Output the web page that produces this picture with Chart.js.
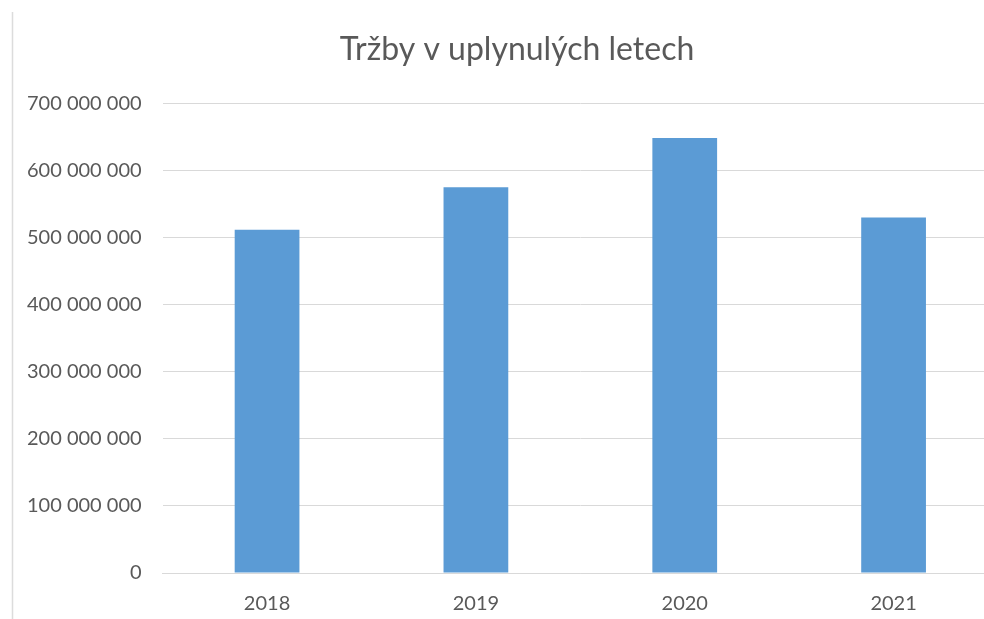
<!DOCTYPE html>
<html>
<head>
<meta charset="utf-8">
<script src="https://cdn.jsdelivr.net/npm/chart.js@4"></script>
<style>
html,body{margin:0;padding:0;background:#fff;overflow:hidden;}
#wrap{position:relative;width:1030px;height:635px;}
</style>
</head>
<body>
<div id="wrap"><canvas id="c"></canvas></div>
<script>
const categories = ['2018', '2019', '2020', '2021'];
const revenues = [511500000, 575000000, 648500000, 530000000];
const yTicks = [0, 100000000, 200000000, 300000000, 400000000, 500000000, 600000000, 700000000];
const chartTitle = 'Tržby v uplynulých letech';

function fmt(v){ return String(v).replace(/\B(?=(\d{3})+(?!\d))/g, ' '); }

const frameLine = {
  id: 'frameLine',
  beforeDraw(chart){
    const ctx = chart.ctx;
    ctx.save();
    ctx.strokeStyle = '#dcdcdc';
    ctx.lineWidth = 1.5;
    ctx.beginPath();
    ctx.moveTo(12.5, 12);
    ctx.lineTo(12.5, 640);
    ctx.stroke();
    ctx.restore();
  }
};

new Chart(document.getElementById('c'), {
  type: 'bar',
  data: {
    labels: categories,
    datasets: [{
      data: revenues,
      backgroundColor: '#5b9bd5',
      borderWidth: 0,
      barPercentage: 0.31,
      categoryPercentage: 1.0
    }]
  },
  options: {
    responsive: true,
    maintainAspectRatio: false,
    animation: false,
    layout: { padding: { left: 6, right: 2, top: 0, bottom: 0 } },
    plugins: {
      legend: { display: false },
      tooltip: { enabled: false },
      title: {
        display: true,
        text: chartTitle,
        color: '#595959',
        font: { family: 'Lato', size: 32, weight: 'normal' },
        padding: { top: 30, bottom: 35 }
      }
    },
    scales: {
      x: {
        grid: { display: false, drawTicks: false },
        border: { display: true, color: '#d9d9d9', width: 1 },
        ticks: { color: '#595959', font: { family: 'Lato', size: 20 }, padding: 19 }
      },
      y: {
        min: 0,
        max: 700000000,
        afterBuildTicks(axis){ axis.ticks = yTicks.map(v => ({ value: v })); },
        grid: { color: '#d9d9d9', lineWidth: 1, drawTicks: false },
        border: { display: false },
        ticks: {
          color: '#595959',
          font: { family: 'Lato', size: 20 },
          padding: 21,
          callback: v => fmt(v)
        }
      },
      yPad: {
        position: 'right',
        display: true,
        min: 0,
        max: 700000000,
        grid: { display: false, drawTicks: false },
        border: { display: false },
        ticks: { display: false },
        afterFit(axis){ axis.width = 30; }
      }
    }
  },
  plugins: [frameLine]
});
</script>
</body>
</html>
